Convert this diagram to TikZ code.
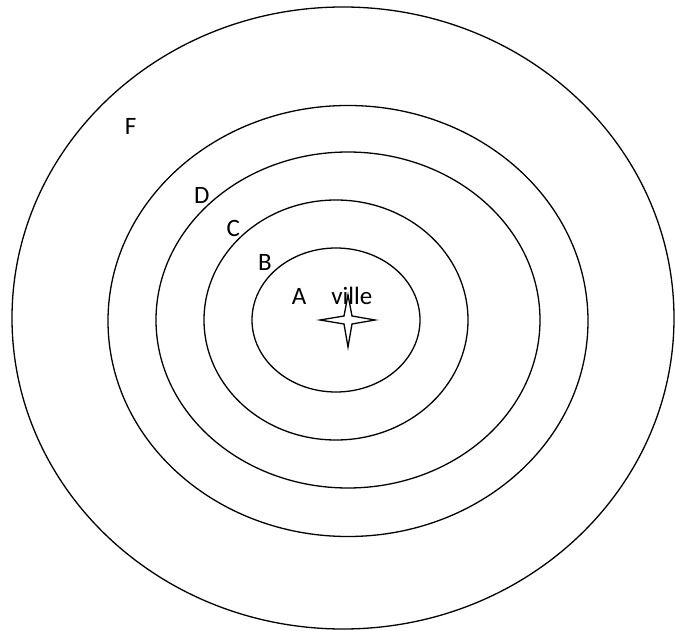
\documentclass[tikz,border=0pt]{standalone}
\usepackage{fontspec}
\setmainfont{Carlito}
\usetikzlibrary{calc}
\begin{document}
\begin{tikzpicture}[x=1pt,y=-1pt,
  ring/.style={draw=black,line width=1.3pt},
  lbl/.style={font=\fontsize{25}{28}\selectfont,inner sep=0pt,anchor=base}]
\useasboundingbox (0,0) rectangle (675,631);
\draw[ring] (343,318) ellipse [x radius=331, y radius=311];
\draw[ring] (348,321) ellipse [x radius=240, y radius=215.5];
\draw[ring] (348,320) ellipse [x radius=192, y radius=168];
\draw[ring] (336,320) ellipse [x radius=132, y radius=120];
\draw[ring] (336,320) ellipse [x radius=84, y radius=72];
\coordinate (s) at (348,320);
\draw[line width=1.3pt,line join=miter]
  ($(s)+(0,-25)$) -- ($(s)+(4,-4)$) -- ($(s)+(27,0)$) -- ($(s)+(4,4)$) --
  ($(s)+(0,27)$) -- ($(s)+(-4,4)$) -- ($(s)+(-28,0)$) -- ($(s)+(-4,-4)$) -- cycle;
\node[lbl] (F) at (130.7,135) {F};
\node[lbl] (D) at (201.7,203.3) {D};
\node[lbl] (C) at (233.3,236.7) {C};
\node[lbl] (B) at (265,271) {B};
\node[lbl] (A) at (299,305) {A};
\node[lbl] (ville) at (351.8,305) {ville};
\end{tikzpicture}
\end{document}
